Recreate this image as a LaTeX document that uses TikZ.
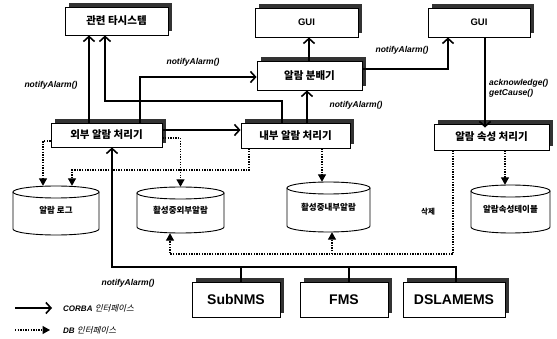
\documentclass[tikz,border=0pt]{standalone}
\usepackage{fontspec}
\setmainfont{Liberation Sans}
\newfontfamily\krb[WordSpace=2.2]{Noto Sans CJK KR}
\newfontfamily\kr{Noto Sans CJK KR}
\newfontfamily\krsl[FakeSlant=0.25]{Noto Sans CJK KR}
\usetikzlibrary{arrows.meta,shadows,calc}
\newcommand\drawcyl[4]{%
  \draw[cylst] (#1-#4,#2+6) -- (#1-#4,#3-6) arc[start angle=180,end angle=360,x radius=#4pt,y radius=6pt] -- (#1+#4,#2+6);
  \draw[cylst] (#1,#2+6) ellipse[x radius=#4pt,y radius=6pt];}
\begin{document}
\begin{tikzpicture}[x=1pt,y=-1pt,
  box/.style={draw, line width=0.9pt, fill=white, inner sep=0pt,
    drop shadow={shadow xshift=4pt, shadow yshift=4pt, fill=black!80, opacity=1}},
  krbox/.style={box, font=\krb\bfseries\fontsize{10.5}{12}\selectfont},
  guibox/.style={box, font=\bfseries\fontsize{9.5}{10}\selectfont},
  embox/.style={box, font=\bfseries\fontsize{14}{16}\selectfont},
  cylst/.style={draw, line width=0.9pt, fill=white},
  cyltxt/.style={inner sep=0pt, font=\kr\bfseries\fontsize{8.5}{9}\selectfont},
  lbl/.style={inner sep=0pt, font=\bfseries\itshape\fontsize{8.5}{10}\selectfont},
  krsm/.style={inner sep=0pt, font=\kr\bfseries\fontsize{7.5}{9}\selectfont},
  lgd/.style={inner sep=0pt, font=\bfseries\itshape\fontsize{8}{9}\selectfont},
  cline/.style={line width=1.5pt},
  carr/.style={line width=1.5pt, line join=miter, -{Straight Barb[length=5pt,width=11pt,line width=1.6pt]}},
  darr/.style={line width=1.3pt, dash pattern=on 1.3pt off 1.3pt, -{Triangle[length=7.5pt,width=8pt]}},
]
\fill[white] (0,0) rectangle (557,339);
\useasboundingbox (0,0) rectangle (557,339);

% boxes
\node[krbox, minimum width=103pt, minimum height=28pt] (rel) at (116.5,21) {관련 타시스템};
\node[guibox, minimum width=103pt, minimum height=29pt] (gui1) at (306.5,22.5) {GUI};
\node[guibox, minimum width=102pt, minimum height=29pt] (gui2) at (479,22.5) {GUI};
\node[krbox, minimum width=105pt, minimum height=29pt] (dist) at (309.5,75.5) {알람 분배기};
\node[krbox, minimum width=111pt, minimum height=24pt] (ext) at (106.5,135) {외부 알람 처리기};
\node[krbox, minimum width=109pt, minimum height=25pt] (int) at (295.5,135.5) {내부 알람 처리기};
\node[krbox, minimum width=115pt, minimum height=26pt] (attr) at (491.5,137) {알람 속성 처리기};
\node[embox, minimum width=88pt, minimum height=35pt] (sub) at (236,299.5) {SubNMS};
\node[embox, minimum width=88pt, minimum height=35pt] (fms) at (344,299.5) {FMS};
\node[embox, minimum width=102pt, minimum height=35pt] (dsl) at (454,299.5) {DSLAMEMS};

% cylinders
\drawcyl{56}{186}{235}{43}
\node[cyltxt, minimum width=86pt, minimum height=49pt] (log) at (56,210.5) {알람 로그};
\drawcyl{180.5}{187}{233}{43.5}
\node[cyltxt, minimum width=87pt, minimum height=46pt] (actext) at (180.5,210) {활성중외부알람};
\drawcyl{328.5}{182}{232}{41.5}
\node[cyltxt, minimum width=83pt, minimum height=50pt] (actint) at (328.5,207) {활성중내부알람};
\drawcyl{510.5}{185}{233}{39.5}
\node[cyltxt, minimum width=79pt, minimum height=48pt] (attrtbl) at (510.5,209) {알람속성테이블};

% helper coordinates
\coordinate (c89) at (89,0);
\coordinate (k1) at (282,101);
\coordinate (k2) at (105,101);
\coordinate (k3) at (140,77);
\coordinate (k4) at (0,130);
\coordinate (k5) at (307,0);
\coordinate (k6) at (309,0);
\coordinate (k7) at (448,69);
\coordinate (k8) at (485,0);
\coordinate (s1) at (241,0);
\coordinate (s2) at (349,0);
\coordinate (s3) at (456,0);
\coordinate (b1) at (112,267);
\coordinate (d1) at (43,0);
\coordinate (d2) at (249,0);
\coordinate (d3) at (72,170);
\coordinate (d4) at (322,0);
\coordinate (d5) at (453,0);
\coordinate (d6) at (170,254);
\coordinate (d7) at (332,254);
\coordinate (d8) at (505,0);

% solid connectors
\draw[carr] (ext.north -| c89) -- (rel.south -| c89);
\draw[carr] (int.north -| k1) -- (k1) -- (k2) -- (rel.south -| k2);
\draw[carr] (ext.north -| k3) -- (k3) -- (dist.west |- k3);
\draw[carr] (ext.east |- k4) -- (int.west |- k4);
\draw[carr] (int.north -| k5) -- (dist.south -| k5);
\draw[carr] (dist.north -| k6) -- (gui1.south -| k6);
\draw[carr] (dist.east |- k7) -- (k7) -- (gui2.south -| k7);
\draw[carr, shorten >=-4pt] (gui2.south -| k8) -- (attr.north -| k8);
\draw[cline] (sub.north -| s1) -- (s1 |- b1);
\draw[cline] (fms.north -| s2) -- (s2 |- b1);
\draw[carr] (dsl.north -| s3) -- (s3 |- b1) -- (b1) -- (ext.south -| b1);

% dotted connectors
\draw[darr] ([yshift=-6pt]ext.west) -| (log.north -| d1);
\draw[darr] ([yshift=-3pt]ext.east) -| (actext.north);
\draw[darr] (int.south -| d2) |- (d3) -- (log.north -| d3);
\draw[darr] (int.south -| d4) -- (actint.north -| d4);
\draw[darr] (attr.south -| d5) |- (d6) -- (actext.south -| d6);
\draw[darr] (d7) -- (actint.south -| d7);
\draw[darr] (attr.south -| d8) -- (attrtbl.north -| d8);

% labels
\node[lbl] (l1) at (51,85) {notifyAlarm()};
\node[lbl] (l2) at (193,62) {notifyAlarm()};
\node[lbl] (l3) at (356,105) {notifyAlarm()};
\node[lbl] (l4) at (402,50) {notifyAlarm()};
\node[lbl, anchor=west, align=left] (l5) at (489,88) {acknowledge()\\getCause()};
\node[lbl] (l6) at (128,283) {notifyAlarm()};
\node[krsm] (l7) at (428,212) {삭제};

% legend
\node[lgd, anchor=west] (lg1) at (63,308) {CORBA {\krsl\mdseries\upshape\fontsize{8.5}{9}\selectfont 인터페이스}};
\node[lgd, anchor=west] (lg2) at (63,330) {DB {\krsl\mdseries\upshape\fontsize{8.5}{9}\selectfont 인터페이스}};
\coordinate (lgs1) at (15,308);
\coordinate (lgs2) at (15,330);
\draw[carr] (lgs1) -- ([xshift=-11pt]lg1.west);
\draw[darr] (lgs2) -- ([xshift=-13pt]lg2.west);
\end{tikzpicture}
\end{document}
